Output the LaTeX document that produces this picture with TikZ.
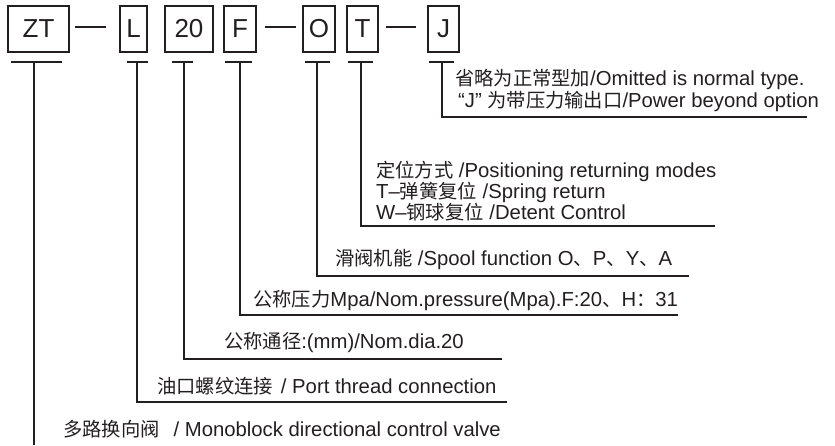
\documentclass[tikz,border=0pt]{standalone}
\usepackage{fontspec}
\setmainfont{Liberation Sans}
\newfontfamily\cjk[Scale=0.95]{Noto Sans CJK SC}
\newcommand\zh[1]{{\cjk #1}}
\definecolor{ink}{RGB}{35,31,32}
\tikzset{
  codebox/.style={draw, line width=1.2pt, minimum height=46pt, inner sep=0pt, font=\fontsize{26}{26}\selectfont},
  note/.style={anchor=west, inner sep=0pt, font=\fontsize{20.3}{21}\selectfont, align=left},
  lead/.style={line width=1.2pt}
}
\begin{document}
\begin{tikzpicture}[x=1pt, y=-1pt, color=ink]
\useasboundingbox (0,0) rectangle (835,445);
% code boxes
\node[codebox, minimum width=61pt] (zt) at (38.5,29) {ZT};
\node[codebox, minimum width=27pt] (l) at (133.5,29) {L};
\node[codebox, minimum width=48pt] (dia) at (189,29) {20};
\node[codebox, minimum width=32pt] (f) at (240,29) {F};
\node[codebox, minimum width=32pt] (o) at (319,29) {O};
\node[codebox, minimum width=31pt] (t) at (362.5,29) {T};
\node[codebox, minimum width=31pt] (j) at (443.5,29) {J};
% dashes between groups
\draw[lead, shorten <=5pt, shorten >=13pt] ([yshift=2pt]zt.east) -- ([yshift=2pt]l.west);
\draw[lead, shorten <=8pt, shorten >=6pt] ([yshift=2pt]f.east) -- ([yshift=2pt]o.west);
\draw[lead, shorten <=7pt, shorten >=11pt] ([yshift=2pt]t.east) -- ([yshift=2pt]j.west);
% notes
\node[note, font=\fontsize{20.3}{19}\selectfont] (jnote) at (455,90.5) {\zh{省略为正常型加}/Omitted is normal type.\\\hspace{3pt}“J” \zh{为带压力输出口}/Power beyond option};
\node[note] (tnote) at (376,191) {\zh{定位方式} /Positioning returning modes\\T–\zh{弹簧复位} /Spring return\\W–\zh{钢球复位} /Detent Control};
\node[note] (onote) at (335,259) {\zh{滑阀机能} /Spool function O\zh{、}P\zh{、}Y\zh{、}A};
\node[note] (fnote) at (253,301) {\zh{公称压力}Mpa/Nom.pressure(Mpa).F:20\zh{、}H\zh{：}31};
\node[note] (dnote) at (224,343) {\zh{公称通径}:(mm)/Nom.dia.20};
\node[note] (lnote) at (157,386) {\zh{油口螺纹连接}\hspace{8pt}/ Port thread connection};
\node[note] (ztnote) at (63,429) {\zh{多路换向阀}\hspace{14pt}/ Monoblock directional control valve};
% tee bars and leaders
\foreach \n/\bl/\br/\vx/\lx/\ly in {zt/11/62/34/34/445, l/127/148/137/507/402, dia/172/193/184/502/359, f/225/252/240/678/315, o/305/330/317/689/276, t/348/373/361/715/226, j/429/454/442/807/117}{
  \coordinate (\n-top) at (\vx,62);
  \coordinate (\n-end) at (\lx,\ly);
  \draw[lead] (\bl,62) -- (\br,62);
  \draw[lead] (\n-top) |- (\n-end);
}
\end{tikzpicture}
\end{document}
